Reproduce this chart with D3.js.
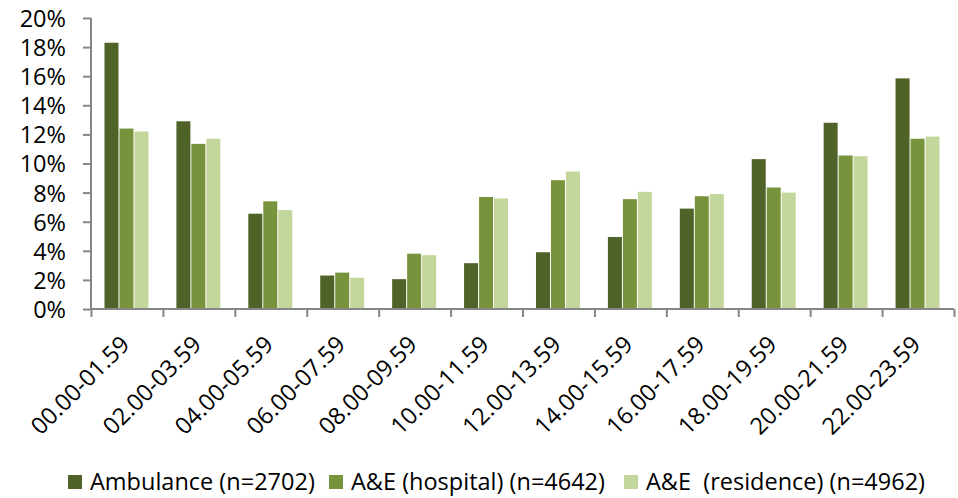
<!DOCTYPE html>
<html>
<head>
<meta charset="utf-8">
<title>Arrivals by time of day</title>
<script src="https://cdnjs.cloudflare.com/ajax/libs/d3/7.8.5/d3.min.js"></script>
<style>
  body { margin: 0; background: #fff; }
  text { font-family: "Open Sans", sans-serif; fill: #000; }
</style>
</head>
<body>
<script>

// data (percent of cases per 2-hour slot)
var categories = ["00.00-01.59", "02.00-03.59", "04.00-05.59", "06.00-07.59",
                  "08.00-09.59", "10.00-11.59", "12.00-13.59", "14.00-15.59",
                  "16.00-17.59", "18.00-19.59", "20.00-21.59", "22.00-23.59"]

var seriesNames = ["Ambulance (n=2702)", "A&E (hospital) (n=4642)", "A&E  (residence) (n=4962)"]

var ambulance   = [18.3, 12.9, 6.55, 2.3, 2.05, 3.15, 3.9, 4.95, 6.9, 10.3, 12.8, 15.85]
var aeHospital  = [12.4, 11.35, 7.4, 2.5, 3.8, 7.7, 8.85, 7.55, 7.75, 8.35, 10.55, 11.7]
var aeResidence = [12.2, 11.7, 6.8, 2.15, 3.7, 7.6, 9.45, 8.05, 7.9, 8.0, 10.5, 11.85]

var yTicks = d3.range(0, 21, 2)

var colours = ["#4F6228", "#77933C", "#C3D69B"]

var w = 958,
    h = 498

var margin = {top: 18, right: 4, bottom: 189, left: 91}

var fontSize = "23.5px"

var svg = d3.select("body").append("svg")
    .attr("width", w)
    .attr("height", h)

var plot_w = w - margin.left - margin.right,
    plot_h = h - margin.top - margin.bottom

var chart = svg.append("g")
    .attr("transform", "translate(" + margin.left + "," + margin.top + ")")

// scales
var x0 = d3.scaleBand()
    .domain(categories)
    .range([0, plot_w])
    .padding(0)

var x1 = d3.scaleBand()
    .domain(d3.range(seriesNames.length))
    .range([0, x0.bandwidth()])
    .paddingInner(0)
    .paddingOuter(0.9)

var xTickScale = d3.scaleLinear()
    .domain([0, categories.length])
    .range([0, plot_w])

var y = d3.scaleLinear()
    .domain([0, 20])
    .range([plot_h, 0])

var allSeries = [ambulance, aeHospital, aeResidence]

// bars
var groups = chart.selectAll(".group")
    .data(categories)
    .enter()
    .append("g")
    .attr("class", "group")
    .attr("transform", function(d){ return "translate(" + x0(d) + ",0)" })

groups.selectAll("rect")
    .data(function(d, i){
        return allSeries.map(function(s, j){ return {s: j, v: s[i]} })
    })
    .enter()
    .append("rect")
    .attr("x", function(d){ return x1(d.s) })
    .attr("width", x1.bandwidth() - 1)
    .attr("y", function(d){ return y(d.v) })
    .attr("height", function(d){ return plot_h - y(d.v) })
    .style("fill", function(d){ return colours[d.s] })

// y axis
var yAxis = chart.append("g")
    .attr("class", "axis")
    .call(d3.axisLeft(y)
        .tickValues(yTicks)
        .tickSize(8)
        .tickPadding(17)
        .tickFormat(function(d){ return d + "%" }))

yAxis.selectAll("text")
    .style("font-size", fontSize)
    .style("font-family", "'Open Sans', sans-serif")
    .attr("dy", "0.36em")

// x axis: ticks at category boundaries
var xAxis = chart.append("g")
    .attr("class", "axis")
    .attr("transform", "translate(0," + plot_h + ")")
    .call(d3.axisBottom(xTickScale)
        .tickValues(d3.range(categories.length + 1))
        .tickSize(8)
        .tickFormat(""))

chart.selectAll(".axis path, .axis line")
    .style("stroke", "#868686")
    .style("stroke-width", "2px")
chart.selectAll(".axis .domain").attr("d", null)
yAxis.append("line")
    .attr("x1", 0).attr("x2", 0)
    .attr("y1", 0).attr("y2", plot_h)
    .style("stroke", "#868686").style("stroke-width", "2px")
xAxis.append("line")
    .attr("x1", 0).attr("x2", plot_w)
    .attr("y1", 0).attr("y2", 0)
    .style("stroke", "#868686").style("stroke-width", "2px")

// rotated category labels
chart.selectAll(".xlabel")
    .data(categories)
    .enter()
    .append("text")
    .attr("class", "xlabel")
    .attr("text-anchor", "end")
    .style("font-size", fontSize)
    .attr("transform", function(d){
        return "translate(" + (x0(d) + x0.bandwidth() / 2 + 4) + "," + (plot_h + 37) + ") rotate(-45)"
    })
    .text(function(d){ return d })

// legend
var legendX = [68, 329, 624]
var legend = svg.selectAll(".legend")
    .data(seriesNames)
    .enter()
    .append("g")
    .attr("class", "legend")
    .attr("transform", function(d, i){ return "translate(" + legendX[i] + ",475)" })

legend.append("rect")
    .attr("width", 14)
    .attr("height", 14)
    .style("fill", function(d, i){ return colours[i] })

legend.append("text")
    .attr("x", 22)
    .attr("y", 14.5)
    .style("font-size", fontSize)
    .style("white-space", "pre")
    .text(function(d){ return d })

</script>
</body>
</html>
